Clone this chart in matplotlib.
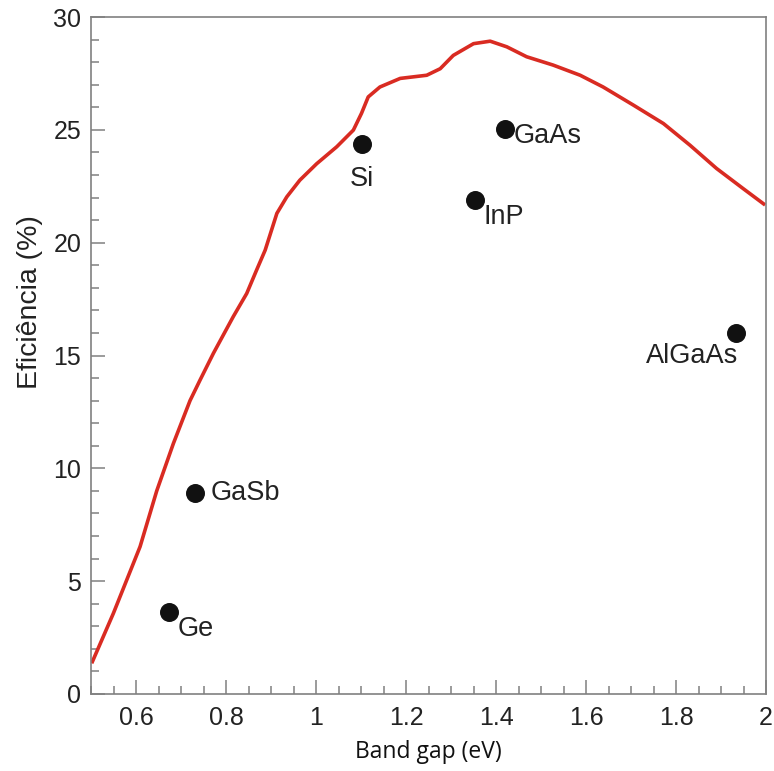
import matplotlib
matplotlib.use('Agg')
import matplotlib.pyplot as plt
from matplotlib import font_manager
from matplotlib.ticker import MultipleLocator

# theoretical efficiency curve (band gap eV, efficiency %)
curve_gap = [0.5015, 0.5496, 0.609, 0.646, 0.683, 0.72, 0.742, 0.772, 0.816,
             0.846, 0.868, 0.887, 0.913, 0.935, 0.964, 1.0015, 1.046, 1.083,
             1.101, 1.116, 1.142, 1.187, 1.246, 1.276, 1.305, 1.35, 1.387,
             1.424, 1.468, 1.527, 1.587, 1.638, 1.705, 1.772, 1.831, 1.89,
             1.949, 1.998]
curve_eff = [1.36, 3.57, 6.53, 9.0, 11.1, 13.0, 13.9, 15.1, 16.72,
             17.75, 18.79, 19.67, 21.3, 22.03, 22.77, 23.5, 24.25, 24.99,
             25.73, 26.46, 26.9, 27.28, 27.42, 27.71, 28.3, 28.82, 28.93,
             28.68, 28.24, 27.87, 27.42, 26.9, 26.1, 25.28, 24.32, 23.29,
             22.4, 21.67]

materials = ['Ge', 'GaSb', 'Si', 'InP', 'GaAs', 'AlGaAs']
mat_gap = [0.673, 0.731, 1.102, 1.353, 1.42, 1.933]
mat_eff = [3.63, 8.9, 24.37, 21.9, 25.03, 16.0]

# label offsets in points and alignment
label_pos = {
    'Ge': ((6, -3), 'left', 'top'),
    'GaSb': ((11, 0), 'left', 'center'),
    'Si': ((0, -16), 'center', 'top'),
    'InP': ((6, -3), 'left', 'top'),
    'GaAs': ((6, -5), 'left', 'center'),
    'AlGaAs': ((2, -7), 'right', 'top'),
}

# pick the regular (not narrow) Liberation Sans file
arial_file = None
for f in font_manager.fontManager.ttflist:
    if f.name == 'Liberation Sans' and 'Narrow' not in f.fname \
            and f.style == 'normal' and f.weight in (400, 'normal', 'regular'):
        arial_file = f.fname
        break

def fp(size):
    if arial_file:
        return font_manager.FontProperties(fname=arial_file, size=size)
    return font_manager.FontProperties(family='DejaVu Sans', size=size)

fig = plt.figure(figsize=(7.74, 7.71), dpi=100)
ax = fig.add_axes([0.1176, 0.0999, 0.8721, 0.878])

ax.plot(curve_gap, curve_eff, color='#d92b22', lw=2.6, solid_capstyle='butt')
ax.scatter(mat_gap, mat_eff, s=160, color='#111111', zorder=3)

for name, gx, ey in zip(materials, mat_gap, mat_eff):
    off, ha, va = label_pos[name]
    ax.annotate(name, (gx, ey), xytext=off, textcoords='offset points',
                ha=ha, va=va, fontproperties=fp(19.5), color='#222222')

ax.set_xlim(0.5, 2.0)
ax.set_ylim(0, 30)
ax.xaxis.set_minor_locator(MultipleLocator(0.05))
ax.yaxis.set_major_locator(MultipleLocator(5))
ax.yaxis.set_minor_locator(MultipleLocator(1))
ax.set_xticks([0.6, 0.8, 1.0, 1.2, 1.4, 1.6, 1.8, 2.0])
ax.set_xticklabels(['0.6', '0.8', '1', '1.2', '1.4', '1.6', '1.8', '2'])

for s in ax.spines.values():
    s.set_color('#808080')
    s.set_linewidth(1.2)

ax.tick_params(which='major', direction='in', length=10, width=1.1,
               color='#808080', labelcolor='#222222')
ax.tick_params(axis='x', which='major', pad=9)
ax.tick_params(axis='y', which='major', pad=7)
ax.tick_params(which='minor', direction='in', length=6, width=1.1, color='#808080')
for lab in ax.get_xticklabels() + ax.get_yticklabels():
    lab.set_fontproperties(fp(18))

ax.set_ylabel('Eficiência (%)', fontproperties=fp(20.5), color='#222222')
ax.yaxis.set_label_coords(-0.071, 0.579)
ax.set_xlabel('Band gap (eV)', fontsize=16.5, family=['Open Sans', 'DejaVu Sans'],
              color='#111111', labelpad=7)

fig.savefig('out.png', dpi=100)
